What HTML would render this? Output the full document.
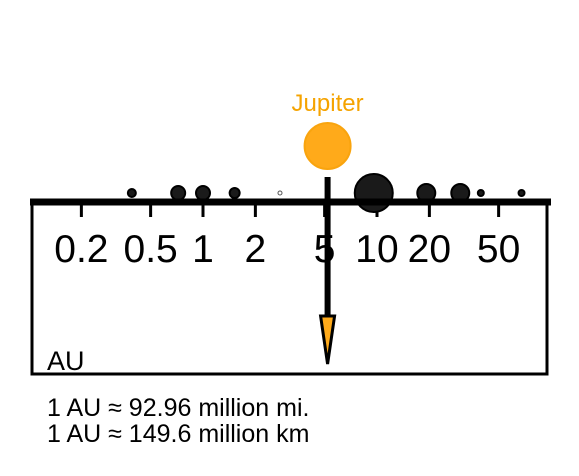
<!DOCTYPE html>
<html><head><meta charset="utf-8"><style>
body{margin:0;background:#fff;}
svg{display:block;font-family:"Liberation Sans",sans-serif;}
</style></head><body>
<svg id="chart" width="579" height="476">
<rect x="32" y="201" width="515" height="173" fill="none" stroke="#000" stroke-width="3"/>
<g id="ticks"></g>
<g id="bodies"></g>
<line x1="30" y1="202" x2="551" y2="202" stroke="#000" stroke-width="7"/>
<g id="pointer"></g>
<text x="47" y="370" font-size="27">AU</text>
<text x="47" y="416" font-size="25">1 AU ≈ 92.96 million mi.</text>
<text x="47" y="442" font-size="25">1 AU ≈ 149.6 million km</text>
</svg>
<script>
const tickValues=[0.2,0.5,1,2,5,10,20,50];
const tickLabels=["0.2","0.5","1","2","5","10","20","50"];
const bodyNames=["Mercury","Venus","Earth","Mars","Ceres","Saturn","Uranus","Neptune","Pluto","Eris"];
const bodyDistances=[0.39,0.72,1,1.52,2.77,9.58,19.2,30.1,39.5,67.7];
const bodyRadii=[4,7,7,5,2,19,9,9,3,3];
const highlightName="Jupiter";
const highlightDistance=5.2;
const ns="http://www.w3.org/2000/svg";
function xScale(v){return 203+174*Math.log10(v);}
function mk(t,a,p){const e=document.createElementNS(ns,t);for(const k in a)e.setAttribute(k,a[k]);p.appendChild(e);return e;}
const tg=document.getElementById('ticks');
tickValues.forEach((v,i)=>{
 const x=xScale(v);
 const l=mk('line',{x1:x,y1:201,x2:x,y2:217,stroke:'#000','stroke-width':3},tg);
 
 
 const t=mk('text',{x:x,y:262,'font-size':39,'text-anchor':'middle'},tg);
 t.textContent=tickLabels[i];
 
 
});
const bg=document.getElementById('bodies');
bodyNames.forEach((n,i)=>{
 const hollow=bodyRadii[i]<=2;
 const c=mk('circle',{cx:xScale(bodyDistances[i]),cy:193,r:bodyRadii[i],fill:hollow?'#fff':'#1a1a1a',stroke:hollow?'#555':'#000','stroke-width':hollow?1:2},bg);
 
 
});
const pg=document.getElementById('pointer');
const jx=xScale(highlightDistance);
const jc=mk('circle',{cx:jx,cy:146,r:23,fill:'#ffaa1a',stroke:'#f9a40e','stroke-width':2},pg);


const jt=mk('text',{x:jx,y:111,'font-size':24,'text-anchor':'middle',fill:'#f5a300'},pg);
jt.textContent=highlightName;


const sh=mk('line',{x1:jx,y1:177,x2:jx,y2:318,stroke:'#000','stroke-width':6},pg);


const ah=mk('polygon',{points:`${jx-7},316 ${jx+7},316 ${jx},364`,fill:'#ffaa1a',stroke:'#000','stroke-width':3,'stroke-linejoin':'miter'},pg);


</script>
</body></html>
